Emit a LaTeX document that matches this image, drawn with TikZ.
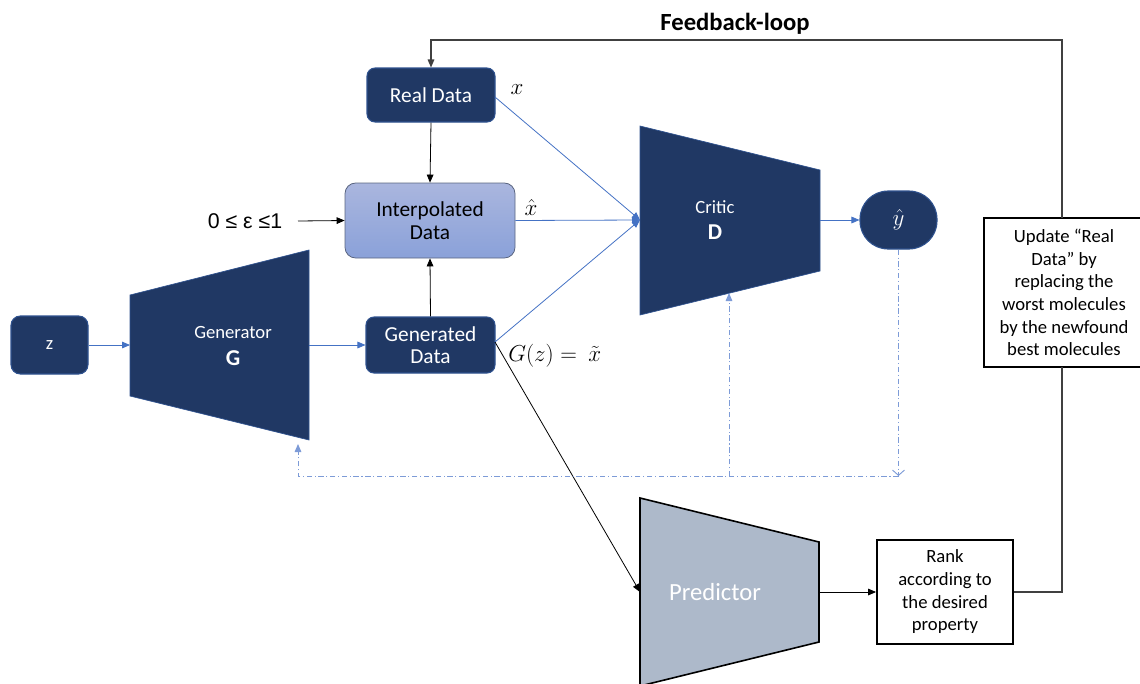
\documentclass[tikz,border=0pt]{standalone}
\usepackage{fontspec}
\setmainfont{Carlito}
\newfontfamily\arialfont{Liberation Sans}
\usetikzlibrary{arrows.meta,positioning}

\definecolor{navy}{HTML}{203864}
\definecolor{navyedge}{HTML}{2F528F}
\definecolor{linkblue}{HTML}{4472C4}
\definecolor{loopblue}{RGB}{125,155,215}
\definecolor{interTop}{HTML}{AAB6DE}
\definecolor{interBot}{HTML}{8AA1D9}
\definecolor{interEdge}{HTML}{5A6580}
\definecolor{predfill}{HTML}{ADB9CA}

\tikzset{
  darkbox/.style={rectangle, rounded corners=6pt, fill=navy, draw=navyedge, line width=0.8pt,
    text=white, align=center, inner sep=2pt, font=\fontsize{16}{17}\selectfont},
  interbox/.style={rectangle, rounded corners=8pt, top color=interTop, bottom color=interBot,
    draw=interEdge, line width=0.6pt, align=center, inner sep=2pt, font=\fontsize{16}{17}\selectfont},
  plainbox/.style={rectangle, draw=black, line width=1.4pt, fill=white, align=center,
    inner sep=2pt, font=\fontsize{14}{17}\selectfont},
  trapdark/.style={fill=navy, draw=navyedge, line width=0.5pt},
  traplight/.style={fill=predfill, draw=black, line width=1.2pt},
  bluelink/.style={draw=linkblue, line width=0.6pt, -{Triangle[length=6pt,width=5pt]}},
  blacklink/.style={draw=black, line width=0.6pt, -{Triangle[length=6pt,width=5pt]}},
  blackline/.style={draw=black!75, line width=0.8pt},
  dashdotline/.style={draw=loopblue, line width=0.7pt, dash pattern=on 4pt off 2pt on 0.8pt off 2pt},
  mathlabel/.style={inner sep=0pt, font=\fontsize{17}{19}\selectfont},
  shapetext/.style={text=white, inner sep=0pt, font=\fontsize{14}{16}\selectfont},
  shapebold/.style={text=white, inner sep=0pt, font=\fontsize{17}{19}\selectfont\bfseries},
}

\begin{document}
\begin{tikzpicture}[x=0.75pt, y=-0.75pt]
\useasboundingbox (0,0) rectangle (1140,683);

% ---------- trapezoids ----------
\path[trapdark] (130,295) -- (309,250) -- (309,440) -- (130,396) -- cycle;
\path[trapdark] (640,126) -- (820,170) -- (820,271) -- (640,315) -- cycle;
\path[traplight] (640,498) -- (819,542) -- (819,642) -- (640,686) -- cycle;

% attachment points on the trapezoids
\coordinate (Gin)   at (130,345);
\coordinate (Gout)  at (309,345);
\coordinate (Gbot)  at (298,444);
\coordinate (Din)   at (640,220);
\coordinate (Dout)  at (820,220);
\coordinate (Dbot)  at (729,293);
\coordinate (Pin)   at (640,592);
\coordinate (Pout)  at (819,592);

% trapezoid labels
\node[shapetext] (gentxt) at (233,333) {Generator};
\node[shapebold] (gentxtG) at (233,358) {G};
\node[shapetext] (crittxt) at (715,207) {Critic};
\node[shapebold] (crittxtD) at (715,232) {D};
\node[text=white, inner sep=0pt, font=\fontsize{18.5}{20}\selectfont] (predtxt) at (715,592) {Predictor};

% ---------- boxes ----------
\node[darkbox, minimum width=96pt, minimum height=40.5pt] (real) at (431,95) {Real Data};
\node[interbox, text width=120pt, minimum width=127.5pt, minimum height=56.25pt] (inter) at (430,220.5) {Interpolated\\Data};
\node[darkbox, minimum width=96.75pt, minimum height=42pt] (gen) at (430.5,345) {Generated\\Data};
\node[darkbox, rounded corners=7pt, minimum width=57.75pt, minimum height=43.5pt, font=\fontsize{14}{16}\selectfont] (z) at (49.5,345) {z};
\node[darkbox, rounded corners=21pt, minimum width=57.75pt, minimum height=43.5pt, font=\fontsize{16}{17}\selectfont] (yhat) at (898.5,220) {$\hat{y}$};
\node[plainbox, minimum width=102pt, minimum height=78pt] (rank) at (945,592) {Rank\\according to\\the desired\\property};
\node[plainbox, minimum width=120pt, minimum height=111.75pt] (update) at (1064,292.5) {Update “Real\\Data” by\\replacing the\\worst molecules\\by the newfound\\best molecules};

% ---------- texts ----------
\node[inner sep=0pt, font=\fontsize{18.5}{20}\selectfont\bfseries] (fbtitle) at (735,24) {Feedback-loop};
\node[inner sep=0pt, font=\arialfont\fontsize{16}{18}\selectfont] (eps) at (245,221) {0 ≤ ε ≤1};
\node[mathlabel] (xlab) at (517,90) {$x$};
\node[mathlabel] (xhatlab) at (531,207) {$\hat{x}$};
\node[mathlabel, anchor=west] (gzlab) at (508,356) {$G(z) =\ \tilde{x}$};

% ---------- blue data flow ----------
\coordinate (realout) at (495,97);
\coordinate (genout) at (495,342);
\draw[bluelink] (z.east) -- (Gin);
\draw[bluelink] (Gout) -- (gen.west);
\draw[bluelink] (realout) -- (Din);
\draw[bluelink] (inter.east) -- (Din);
\draw[bluelink] (genout) -- (Din);
\draw[bluelink] (Dout) -- (yhat.west);

% ---------- black data flow ----------
\coordinate (epsout) at (298,221);
\draw[blacklink] (real.south) -- (inter.north);
\draw[blacklink] (gen.north) -- (inter.south);
\draw[blacklink] (epsout) -- (inter.west);
\draw[blacklink] (genout) -- (Pin);
\draw[blacklink] (Pout) -- (rank.west);

% ---------- feedback loop ----------
\coordinate (fbtop) at (1062,40);
\coordinate (upin) at (1062,367);
\coordinate (upout) at (1062,218);
\draw[blackline] (rank.east) -| (upin);
\draw[blackline, -{Triangle[length=6pt,width=5pt]}] (upout) -- (fbtop) -| (real.north);

% ---------- dash-dot gradient path ----------
\coordinate (loopR) at (898.5,476);
\coordinate (loopM) at (729,476);
\coordinate (loopL) at (298,476);
\draw[dashdotline, -{Straight Barb[length=4pt,width=9pt]}] (yhat.south) -- (loopR);
\draw[dashdotline, -{Triangle[length=6pt,width=5pt]}] (loopR) -- (loopL) -- (Gbot);
\draw[dashdotline, -{Triangle[length=6pt,width=5pt]}] (loopM) -- (Dbot);
\end{tikzpicture}
\end{document}
